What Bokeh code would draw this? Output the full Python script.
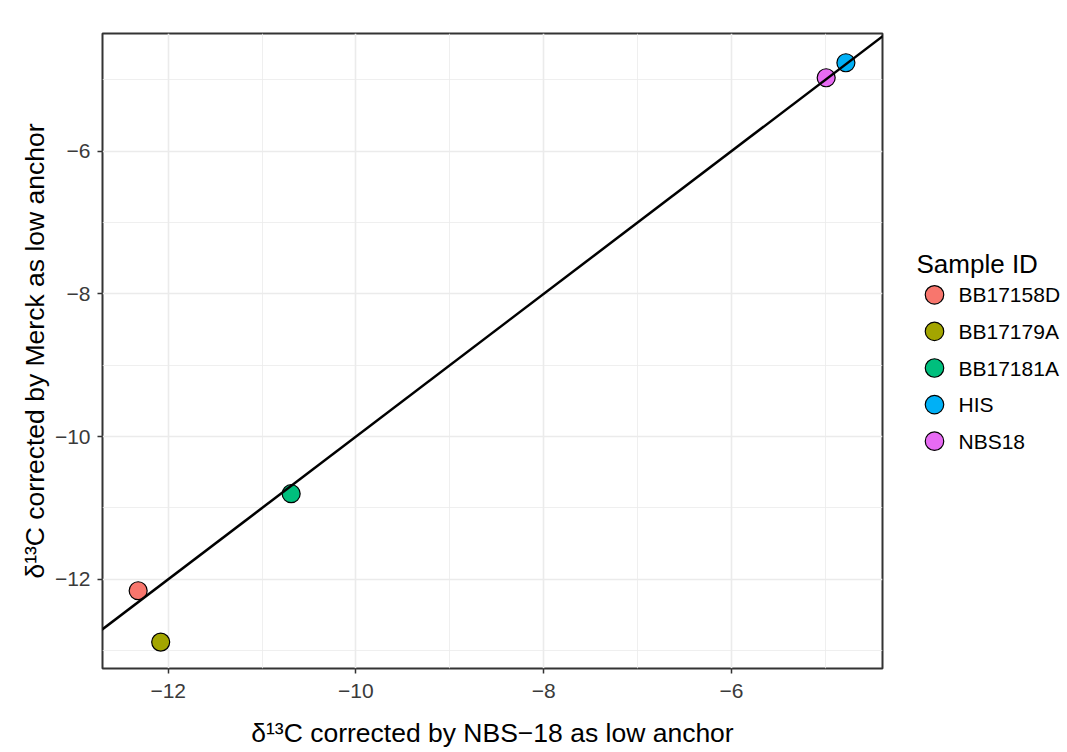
from bokeh.plotting import figure
from bokeh.layouts import row
from bokeh.models import (ColumnDataSource, FixedTicker, Slope, Range1d)
from bokeh.core.properties import value
from bokeh.embed import file_html
from bokeh.resources import INLINE

samples = ["BB17158D", "BB17179A", "BB17181A", "HIS", "NBS18"]
x_nbs18 = [-12.32, -12.08, -10.69, -4.78, -4.99]
y_merck = [-12.16, -12.88, -10.80, -4.76, -4.97]
colors = ["#F8766D", "#A3A500", "#00BF7D", "#00B0F6", "#E76BF3"]

major_ticks = [-12, -10, -8, -6]
minor_ticks = [-13, -11, -9, -7, -5]
tick_labels = ["\u221212", "\u221210", "\u22128", "\u22126"]

x_title = "\u03b4\u00b9\u00b3C corrected by NBS\u221218 as low anchor"
y_title = "\u03b4\u00b9\u00b3C corrected by Merck as low anchor"
legend_title = "Sample ID"

FONT = "Liberation Sans"
FRAME_W, FRAME_H = 780, 635
TOP, BOTTOM, LEFT, RIGHT = 33, 82, 102, 5
FIG_H = TOP + FRAME_H + BOTTOM

p = figure(frame_width=FRAME_W, frame_height=FRAME_H, output_backend="svg", toolbar_location=None,
           x_range=Range1d(-12.70, -4.39), y_range=Range1d(-13.25, -4.35),
           min_border_left=LEFT, min_border_top=TOP, min_border_bottom=BOTTOM, min_border_right=RIGHT,
           background_fill_color="white", border_fill_color="white")

source = ColumnDataSource(dict(x=x_nbs18, y=y_merck, sample=samples, color=colors))

# reference line y = x
p.add_layout(Slope(gradient=1, y_intercept=0, line_color="black", line_width=2.5))

p.scatter("x", "y", source=source, size=18, fill_color="color", line_color="black", line_width=1.2)

overrides = {t: lab for t, lab in zip(major_ticks, tick_labels)}
for ax, title in ((p.xaxis[0], x_title), (p.yaxis[0], y_title)):
    ax.ticker = FixedTicker(ticks=major_ticks, minor_ticks=minor_ticks)
    ax.major_label_overrides = overrides
    ax.axis_label = title
    ax.axis_label_text_font = FONT
    ax.axis_label_text_font_size = "26.5px"
    ax.axis_label_text_font_style = "normal"
    ax.axis_label_text_color = "black"
    ax.major_label_text_font = FONT
    ax.major_label_text_font_size = "21px"
    ax.major_label_text_color = "#3a3a3a"
    ax.major_tick_line_color = "#333333"
    ax.major_tick_line_width = 1.5
    ax.major_tick_out = 5
    ax.major_tick_in = 0
    ax.minor_tick_line_color = None
    ax.axis_line_color = None

p.xaxis[0].major_label_standoff = 10
p.xaxis[0].axis_label_standoff = 17
p.yaxis[0].major_label_standoff = 7
p.yaxis[0].axis_label_standoff = 2

for g in (p.xgrid[0], p.ygrid[0]):
    g.grid_line_color = "#ebebeb"
    g.grid_line_width = 1.6
    g.minor_grid_line_color = "#ebebeb"
    g.minor_grid_line_width = 0.8

p.outline_line_color = "#333333"
p.outline_line_width = 2

# ---- legend panel (separate small figure to the right; its frame aligns with the main frame) ----
LEG_W = 1067 - (LEFT + FRAME_W + RIGHT)
ROW_PX = 36.6            # vertical distance between legend rows
FIRST_ROW_PX = 294.3     # first row centre, from the top of the page
idx = list(range(len(samples)))
lf = figure(frame_width=LEG_W, frame_height=FRAME_H, output_backend="svg", toolbar_location=None,
            x_range=Range1d(0, LEG_W),
            y_range=Range1d((TOP + FRAME_H - FIRST_ROW_PX) / ROW_PX, (TOP - FIRST_ROW_PX) / ROW_PX),
            min_border_left=0, min_border_right=0, min_border_top=TOP, min_border_bottom=BOTTOM,
            outline_line_color=None, background_fill_color="white", border_fill_color="white")
lf.axis.visible = False
lf.grid.visible = False
lf.scatter(x=[47] * len(samples), y=idx, size=18.5, fill_color=colors, line_color="black",
           line_width=1.2)
lf.text(x=[71] * len(samples), y=idx, text=samples, text_baseline="middle", text_align="left",
        text_font=value(FONT), text_font_size="21px", text_color="black")
lf.text(x=[29], y=[-0.83], text=[legend_title], text_baseline="alphabetic", text_align="left",
        text_font=value(FONT), text_font_size="26px", text_color="black")

layout = row(p, lf)
open("out.html", "w").write(file_html(layout, INLINE))
